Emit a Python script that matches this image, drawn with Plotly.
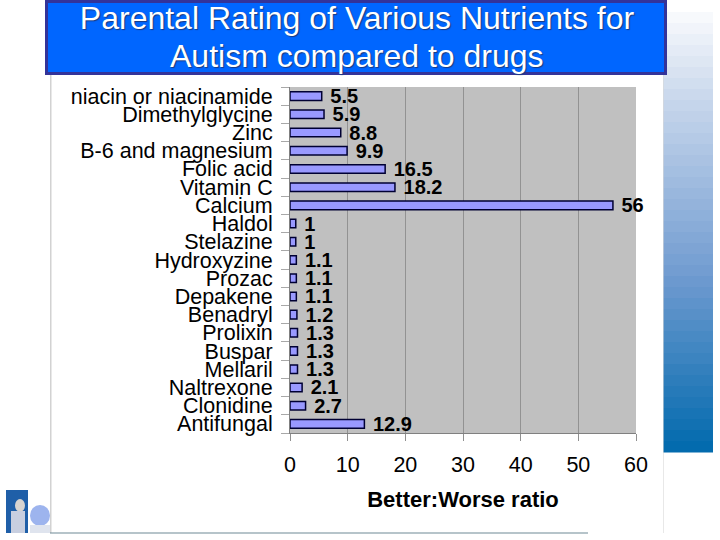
import plotly.graph_objects as go

categories = ["niacin or niacinamide", "Dimethylglycine", "Zinc", "B-6 and magnesium",
              "Folic acid", "Vitamin C", "Calcium", "Haldol", "Stelazine", "Hydroxyzine",
              "Prozac", "Depakene", "Benadryl", "Prolixin", "Buspar", "Mellaril",
              "Naltrexone", "Clonidine", "Antifungal"]
ratios = [5.5, 5.9, 8.8, 9.9, 16.5, 18.2, 56, 1, 1, 1.1, 1.1, 1.1, 1.2, 1.3, 1.3, 1.3, 2.1, 2.7, 12.9]
labels = ["5.5", "5.9", "8.8", "9.9", "16.5", "18.2", "56", "1", "1", "1.1", "1.1", "1.1",
          "1.2", "1.3", "1.3", "1.3", "2.1", "2.7", "12.9"]
x_ticks = [0, 10, 20, 30, 40, 50, 60]
title_lines = ["Parental Rating of Various Nutrients for", "Autism compared to drugs"]
x_title = "Better:Worse ratio"

W, H = 720, 540
L, R, T, B = 290, 636, 87, 433
FONT = "Liberation Sans, Arial, sans-serif"

def px(x):
    return (x - L) / (R - L)

def py(y):
    return (B - y) / (B - T)

def box(x0, y0, x1, y1, fill=None, line=None, lw=0, kind="rect"):
    return dict(type=kind, xref="paper", yref="paper", x0=px(x0), x1=px(x1),
                y0=py(y1), y1=py(y0), fillcolor=fill or "rgba(0,0,0,0)",
                line=dict(color=line or "rgba(0,0,0,0)", width=lw), layer="below")

def mix(stops, t):
    for (t0, c0), (t1, c1) in zip(stops, stops[1:]):
        if t <= t1:
            f = (t - t0) / (t1 - t0)
            return "rgb(%d,%d,%d)" % tuple(round(a + (b - a) * f) for a, b in zip(c0, c1))
    return "rgb(%d,%d,%d)" % stops[-1][1]

stops = [(0, (250, 251, 253)), (0.2, (200, 215, 236)), (0.6, (112, 155, 208)), (1, (0, 105, 173))]
shapes = []
n = 40
for i in range(n):
    y0 = 12 + (452 - 12) * i / n
    y1 = 12 + (452 - 12) * (i + 1) / n + 0.5
    shapes.append(box(663, y0, 713, y1, fill=mix(stops, (i + 0.5) / n)))
shapes += [
    box(50, 75, 51.5, 533, fill="#d2d2d2"),
    box(663, 75, 663.6, 533, fill="#d8d8d8"),
    box(50, 532.5, 588, 533.5, fill="#6f8a96"),
    box(6, 490, 28, 533, fill="#1f5fa8"),
    box(15, 499, 25, 512, fill="#d8d4d0", kind="circle"),
    box(11, 511, 25, 533, fill="#c8cfe0"),
    box(30, 505, 50, 526, fill="#9db4ee", kind="circle"),
    box(30, 525, 50, 533, fill="#dfe4ee"),
]
shapes.append(box(46.5, 1.5, 665.5, 73.5, fill="#0066ff", line="#333399", lw=3))

title_font = dict(family=FONT, size=32, color="#ffffff", shadow="1px 1px 1px #1a3a80")

fig = go.Figure(go.Bar(
    y=categories, x=ratios, orientation="h", text=[" " + s for s in labels],
    textposition="outside", cliponaxis=False, constraintext="none", width=0.47,
    marker=dict(color="#9999ff", line=dict(color="#000033", width=1.5)),
    textfont=dict(family=FONT, size=20, color="#000000", weight="bold"),
))
fig.update_layout(
    width=W, height=H, autosize=False,
    margin=dict(l=L, r=W - R, t=T, b=H - B, pad=0),
    paper_bgcolor="#ffffff", plot_bgcolor="#c0c0c0",
    showlegend=False, shapes=shapes,
    title=dict(text=title_lines[0], x=357 / W, xanchor="center",
               y=1 - 18 / H, yanchor="middle", font=title_font),
    annotations=[dict(text=title_lines[1], xref="paper", yref="paper", x=px(357), y=py(56),
                      xanchor="center", yanchor="middle", showarrow=False, font=title_font)],
    xaxis=dict(range=[0, 60], tickvals=x_ticks, ticks="outside", ticklen=7, tickwidth=1,
               tickcolor="#909090", showgrid=True, gridcolor="#929292", gridwidth=1,
               zeroline=False, showline=True, linecolor="#808080", linewidth=1,
               tickfont=dict(family=FONT, size=21.5, color="#000000"),
               ticklabelstandoff=5,
               title=dict(text=x_title, standoff=15,
                          font=dict(family=FONT, size=22, color="#000000", weight="bold"))),
    yaxis=dict(categoryorder="array", categoryarray=categories, autorange=False,
               range=[18.5, -0.5], type="category", tickmode="array", tickvals=categories,
               ticktext=categories, tickson="boundaries", ticks="outside",
               ticklen=8, tickwidth=1, tickcolor="#a8a8a8", showgrid=False,
               showline=True, linecolor="#808080", linewidth=1, ticklabelstandoff=12,
               tickfont=dict(family=FONT, size=21.5, color="#000000")),
)
fig.write_html("out.html", config=dict(displayModeBar=False),
               post_script="document.body.style.margin='0';document.body.style.overflow='hidden';")
